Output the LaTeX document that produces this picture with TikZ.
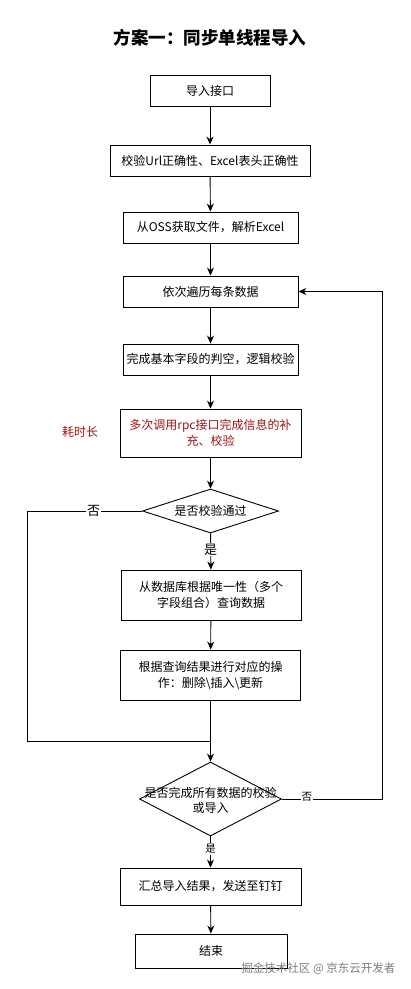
\documentclass[tikz,border=0pt]{standalone}
\usepackage{fontspec}
\setmainfont{Noto Sans CJK SC}
\usetikzlibrary{arrows.meta,shapes.geometric}
\definecolor{slowred}{RGB}{160,20,20}
\definecolor{wmgray}{RGB}{125,125,125}
\begin{document}
\begin{tikzpicture}[x=1pt,y=-1pt,
  box/.style={draw, line width=0.9pt, align=center, inner sep=0pt,
    font=\fontsize{12}{16}\selectfont},
  decision/.style={draw, diamond, line width=0.9pt, inner sep=0pt},
  dtext/.style={align=center, font=\fontsize{12}{15}\selectfont},
  flow/.style={line width=0.9pt, -{Stealth[length=8pt,width=7pt]}},
  plain/.style={line width=0.9pt},
  lbl/.style={fill=white, inner sep=1pt, font=\fontsize{13}{15}\selectfont},
  lbls/.style={fill=white, inner sep=1pt, font=\fontsize{10.5}{12}\selectfont}]
\useasboundingbox[fill=white] (0,0) rectangle (411,989);

\node[font=\fontsize{17.5}{20}\selectfont\bfseries] (title) at (210,38) {方案一：同步单线程导入};

\node[box, minimum width=120pt, minimum height=31pt] (b1) at (210,90.5) {导入接口};
\node[box, minimum width=200pt, minimum height=31pt] (b2) at (210,160.5) {校验Url正确性、Excel表头正确性};
\node[box, minimum width=175pt, minimum height=31pt] (b3) at (210.5,227.5) {从OSS获取文件，解析Excel};
\node[box, minimum width=175pt, minimum height=31pt] (b4) at (210.5,291.5) {依次遍历每条数据};
\node[box, minimum width=175pt, minimum height=31pt] (b5) at (210.5,359.5) {完成基本字段的判空，逻辑校验};
\node[box, minimum width=181pt, minimum height=48pt, text=slowred] (b6) at (210.5,433) {多次调用rpc接口完成信息的补\\充、校验};
\node[text=slowred, font=\fontsize{12}{14}\selectfont] (slow) at (80,432) {耗时长};

\node[decision, minimum width=136pt, minimum height=44pt] (d1) at (210.5,511) {};
\node[dtext] (d1t) at (d1) {是否校验通过};

\node[box, minimum width=180pt, minimum height=50pt] (b7) at (211,595) {从数据库根据唯一性（多个\\字段组合）查询数据};
\node[box, minimum width=180pt, minimum height=50pt] (b8) at (210.5,675) {根据查询结果进行对应的操\\作：删除\textbackslash 插入\textbackslash 更新};

\node[decision, minimum width=142pt, minimum height=74pt] (d2) at (210.5,799) {};
\node[dtext] (d2t) at (210.5,800) {是否完成所有数据的校验\\或导入};

\node[box, minimum width=181pt, minimum height=37pt] (b9) at (210.5,886.5) {汇总导入结果，发送至钉钉};
\node[box, minimum width=152pt, minimum height=34pt] (b10) at (211,951) {结束};

\coordinate (l1) at (27,511);
\coordinate (l2) at (27,741);
\coordinate (m1) at (210.5,741);
\coordinate (r1) at (382,799);
\coordinate (r2) at (382,291.5);

\draw[flow] (b1) -- (b2);
\draw[flow] (b2) -- (b3);
\draw[flow] (b3) -- (b4);
\draw[flow] (b4) -- (b5);
\draw[flow] (b5) -- (b6);
\draw[flow] (b6) -- (d1);
\draw[flow] (d1) -- node[lbl, pos=0.45] (yes1) {是} (b7);
\draw[flow] (b7) -- (b8);
\draw[flow] (b8) -- (d2);
\draw[plain] (d1.west) -- node[lbl, pos=0.42] (no1) {否} (l1) -- (l2) -- (m1);
\draw[flow] (d2.east) -- node[lbls, pos=0.25, yshift=2pt] (no2) {否} (r1) -- (r2) -- (b4.east);
\draw[flow] (d2) -- node[lbls, pos=0.4] (yes2) {是} (b9);
\draw[flow] (b9) -- (b10);

\node[text=wmgray, font=\fontsize{11.5}{14}\selectfont, anchor=east] (wm) at (399,969) {掘金技术社区 @ 京东云开发者};
\end{tikzpicture}
\end{document}
